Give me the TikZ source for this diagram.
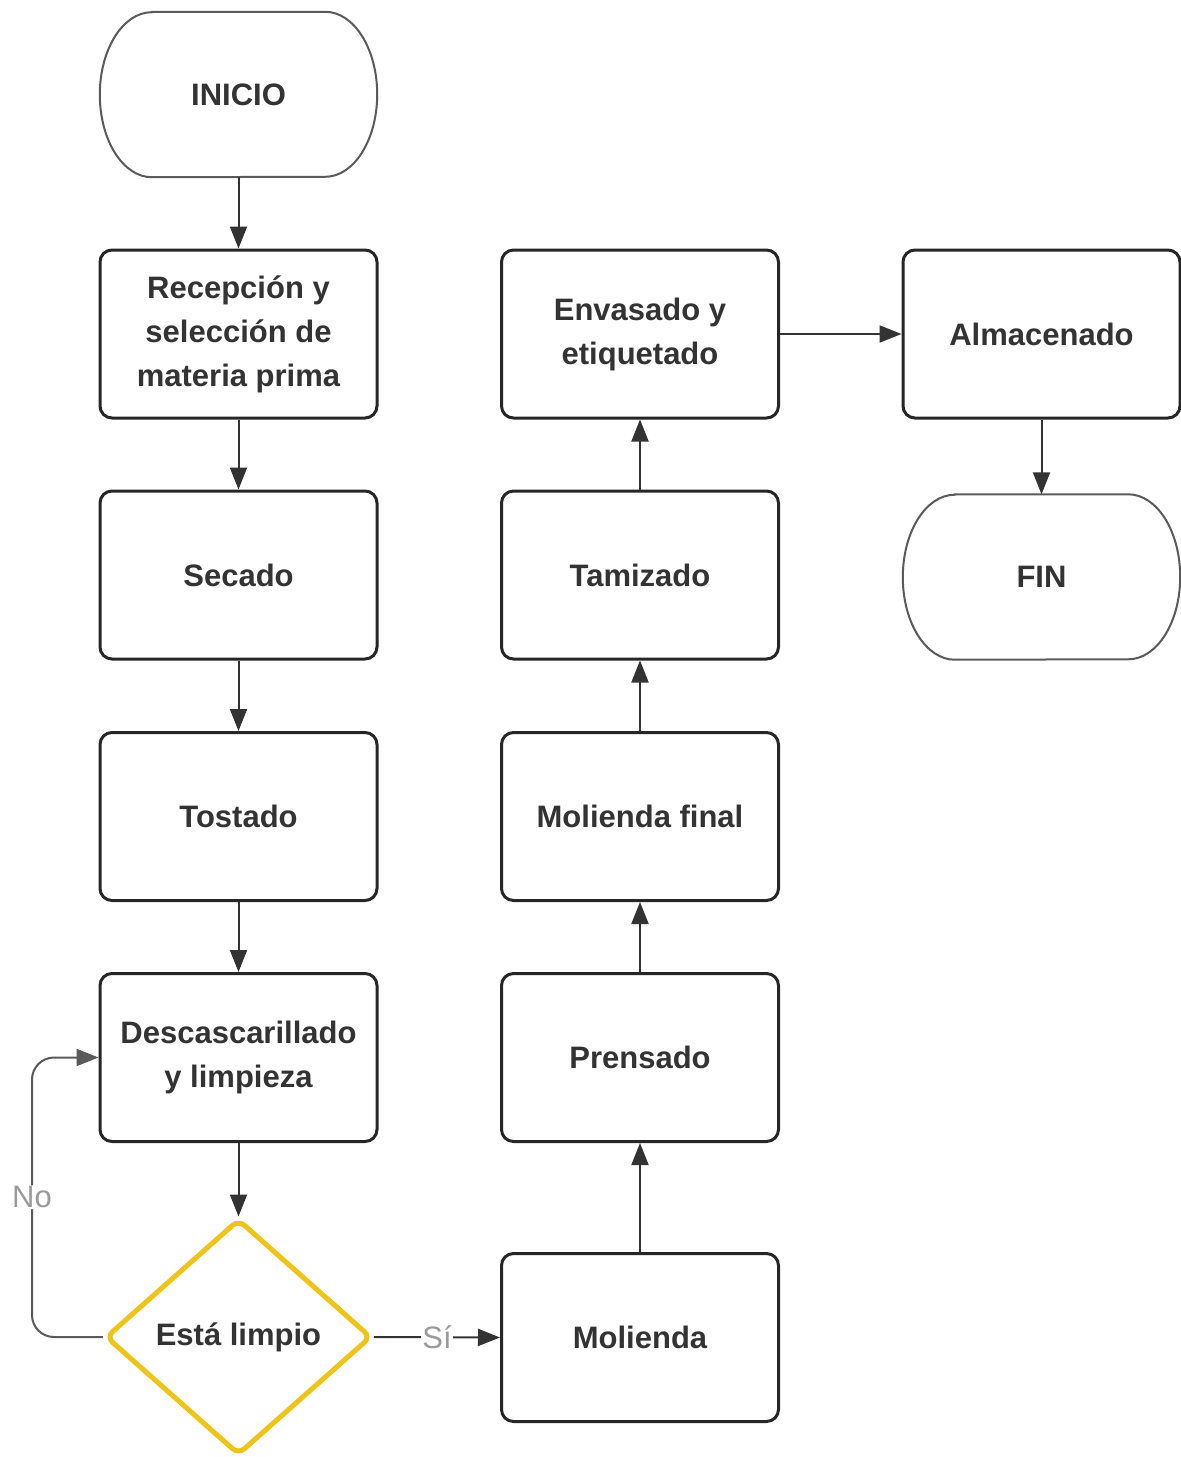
\documentclass[tikz,border=0pt]{standalone}
\usepackage{fontspec}
\setmainfont{Liberation Sans}
\usetikzlibrary{arrows.meta,shapes.geometric}
\definecolor{ink}{HTML}{333333}
\definecolor{edge}{HTML}{262626}
\definecolor{soft}{HTML}{5A5A5A}
\definecolor{lbl}{HTML}{9A9A9A}
\definecolor{gold}{HTML}{EFC41A}
\newcommand{\boxfont}{\fontsize{31}{44}\selectfont\bfseries}
\newcommand{\lblfont}{\fontsize{31}{36}\selectfont}
\begin{document}
\begin{tikzpicture}[x=1pt,y=1pt,
  stepbox/.style={draw=edge, line width=3pt, rounded corners=12pt, fill=white,
    minimum width=277pt, minimum height=168pt, inner sep=0pt,
    align=center, font=\boxfont, text=ink},
  termtext/.style={minimum width=277pt, minimum height=165pt, inner sep=0pt,
    font=\boxfont, text=ink},
  termline/.style={draw=soft, line width=2pt},
  decision/.style={diamond, draw=gold, line width=5pt, fill=white, rounded corners=8pt,
    minimum width=266pt, minimum height=236pt, inner sep=0pt,
    font=\boxfont, text=ink},
  flow/.style={draw=ink, line width=2pt, -{Triangle[length=22pt,width=17pt]}},
  back/.style={draw=soft, line width=2pt, rounded corners=22pt, -{Triangle[length=22pt,width=17pt]}},
  tag/.style={fill=white, inner sep=1pt, font=\lblfont, text=lbl}]
\useasboundingbox (0,0) rectangle (1181,-1457);

% first column
\node[termtext] (ini) at (238.5,-94.5) {INICIO};
\draw[termline] ([xshift=52pt]ini.north west) -- ([xshift=-52pt]ini.north east)
  arc[start angle=90,end angle=-90,x radius=52pt,y radius=82.5pt]
  -- ([xshift=52pt]ini.south west)
  arc[start angle=270,end angle=90,x radius=52pt,y radius=82.5pt] -- cycle;
\node[stepbox] (rec) at (238.5,-334) {Recepción y\\selección de\\materia prima};
\node[stepbox] (sec) at (238.5,-575) {Secado};
\node[stepbox] (tos) at (238.5,-816.5) {Tostado};
\node[stepbox] (des) at (238.5,-1057.5) {Descascarillado\\y limpieza};
\node[decision] (chk) at (238.5,-1337) {Está limpio};

% second column
\node[stepbox] (mol) at (640,-1337.5) {Molienda};
\node[stepbox] (pre) at (640,-1057.5) {Prensado};
\node[stepbox] (mfi) at (640,-816.5) {Molienda final};
\node[stepbox] (tam) at (640,-575) {Tamizado};
\node[stepbox] (env) at (640,-334) {Envasado y\\etiquetado};

% third column
\node[stepbox] (alm) at (1041.5,-334) {Almacenado};
\node[termtext] (fin) at (1041.5,-577) {FIN};
\draw[termline] ([xshift=52pt]fin.north west) -- ([xshift=-52pt]fin.north east)
  arc[start angle=90,end angle=-90,x radius=52pt,y radius=82.5pt]
  -- ([xshift=52pt]fin.south west)
  arc[start angle=270,end angle=90,x radius=52pt,y radius=82.5pt] -- cycle;

% connectors
\draw[flow] (ini) -- (rec);
\draw[flow] (rec) -- (sec);
\draw[flow] (sec) -- (tos);
\draw[flow] (tos) -- (des);
\draw[flow] (des) -- (chk);
\draw[flow] (chk.east) -- node[tag]{Sí} (mol.west);
\draw[flow] (mol) -- (pre);
\draw[flow] (pre) -- (mfi);
\draw[flow] (mfi) -- (tam);
\draw[flow] (tam) -- (env);
\draw[flow] (env) -- (alm);
\draw[flow] (alm) -- (fin);

% return loop
\coordinate (lx) at (32,0);
\draw[back] (chk.west) -- (chk.west -| lx) -- node[tag]{No} (des.west -| lx) -- (des.west);
\end{tikzpicture}
\end{document}
